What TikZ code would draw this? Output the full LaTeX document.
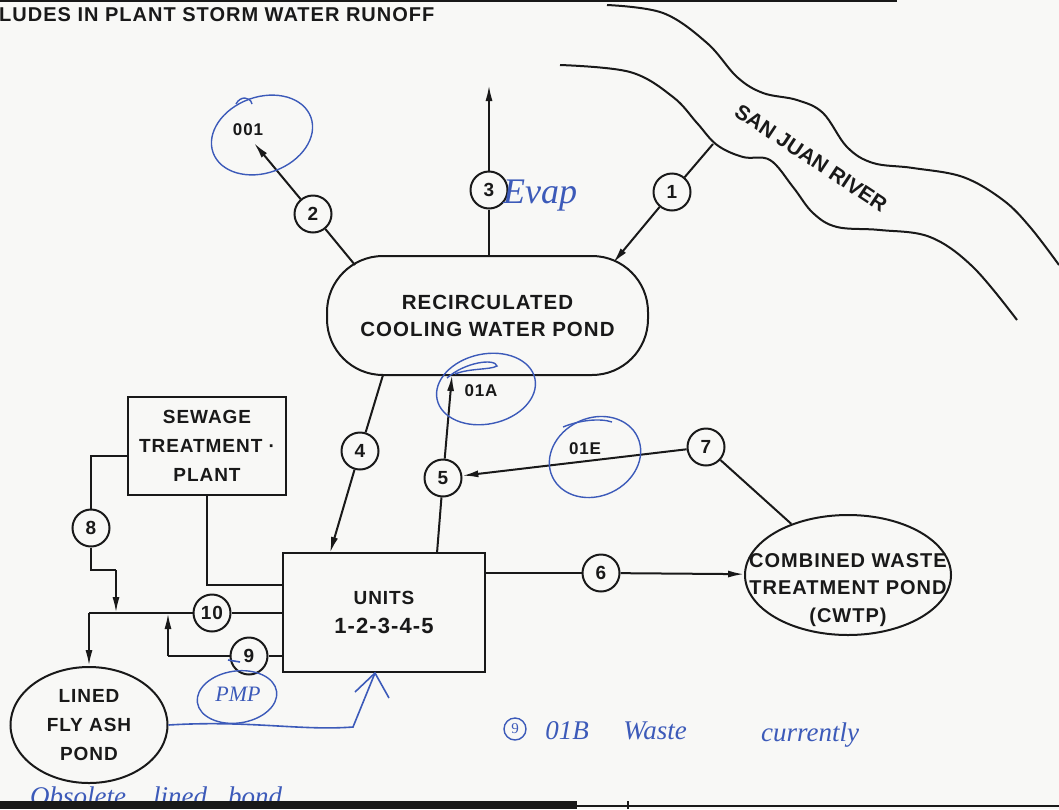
\documentclass[tikz,border=0pt]{standalone}
\usepackage{fontspec}
\setmainfont{Liberation Sans}
\newfontfamily\drawfont{Liberation Sans}[LetterSpace=5,UprightFont=*-Bold]
\newfontfamily\riverfont{Liberation Sans}[UprightFont=*-Bold]
\newfontfamily\handfont{Liberation Serif}
\usetikzlibrary{shapes.geometric,arrows.meta}
\definecolor{ink}{RGB}{25,25,25}
\definecolor{pen}{RGB}{60,90,185}
\definecolor{paper}{RGB}{248,248,246}
\begin{document}
\begin{tikzpicture}[x=1pt,y=-1pt,
  line/.style={draw=ink,line width=2pt},
  arr/.style={draw=ink,line width=2pt,-{Latex[length=16pt,width=7pt]}},
  num/.style={circle,draw=ink,line width=2pt,minimum size=37pt,inner sep=0pt,text=ink,fill=paper,font=\drawfont\fontsize{19}{19}\selectfont},
  lbl/.style={align=center,text=ink,inner sep=0pt,font=\drawfont\fontsize{19}{29}\selectfont},
  small/.style={text=ink,inner sep=0pt,font=\drawfont\fontsize{17}{17}\selectfont},
  hand/.style={text=pen,inner sep=0pt,font=\handfont\itshape\fontsize{27}{27}\selectfont},
  ring/.style={draw=pen,line width=1.4pt},
  pencurve/.style={draw=pen,line width=1.6pt}]
\useasboundingbox (0,0) rectangle (1059,809);
\fill[paper] (0,0) rectangle (1059,809);

% header
\draw[ink,line width=1.5pt] (0,1) -- (897,1);
\node[lbl,anchor=west,font=\drawfont\fontsize{20}{20}\selectfont] (header) at (-1,15) {LUDES IN PLANT STORM WATER RUNOFF};

% river
\draw[line] plot[smooth,tension=0.6] coordinates {(607,5) (663,13) (707,43) (737,77) (763,93) (797,100) (823,113) (847,147) (873,163) (913,168) (963,177) (1003,200) (1030,227) (1059,265)};
\draw[line] plot[smooth,tension=0.6] coordinates {(560,65) (630,72) (673,97) (697,123) (717,145) (743,157) (770,160) (793,187) (813,213) (837,227) (880,230) (930,237) (973,267) (1017,320)};
\node[align=center,text=ink,inner sep=0pt,rotate=-33.5,font=\riverfont\fontsize{21}{21}\selectfont] (river) at (811,158) {SAN JUAN RIVER};

% main nodes
\node[lbl,draw=ink,line width=2pt,rounded corners=56pt,minimum width=321pt,minimum height=119pt,font=\drawfont\fontsize{20.5}{27}\selectfont] (pond) at (487.5,315.5) {RECIRCULATED\\COOLING WATER POND};
\node[lbl,draw=ink,line width=2pt,minimum width=158pt,minimum height=98pt] (sewage) at (207,446) {SEWAGE\\TREATMENT ·\\PLANT};
\node[lbl,draw=ink,line width=2pt,minimum width=202pt,minimum height=119pt] (units) at (384,612.5) {UNITS\\{\fontsize{22}{22}\selectfont 1-2-3-4-5}};
\node[ellipse,draw=ink,line width=2pt,minimum width=206pt,minimum height=120pt] (cwtp) at (848,575) {};
\node[lbl,font=\drawfont\fontsize{20}{27.5}\selectfont] (cwtptext) at (848,590) {COMBINED WASTE\\TREATMENT POND\\(CWTP)};
\node[lbl,ellipse,draw=ink,line width=2pt,minimum width=157pt,minimum height=116pt] (flyash) at (89,725) {LINED\\FLY ASH\\POND};

% numbered circles
\node[num] (n1) at (672,192) {1};
\node[num] (n2) at (313,214) {2};
\node[num] (n3) at (489,190) {3};
\node[num] (n4) at (360,451) {4};
\node[num] (n5) at (443,478) {5};
\node[num] (n6) at (601,573) {6};
\node[num] (n7) at (706,447) {7};
\node[num] (n8) at (91,528) {8};
\node[num] (n9) at (249,656) {9};
\node[num] (n10) at (212,613) {10};

% outfall labels
\node[small] (t001) at (248,130) {001};
\node[small] (t01a) at (481,391) {01A};
\node[small] (t01e) at (585,449) {01E};

% coordinates
\coordinate (r1) at (713,144);
\coordinate (p1) at (613,263);
\coordinate (p2) at (355,265);
\coordinate (o1) at (254,143);
\coordinate (e3) at (489,85);
\coordinate (p4) at (383,375);
\coordinate (u4) at (330,553);
\coordinate (u5) at (437,553);
\coordinate (p5) at (452,375);
\coordinate (s8) at (128,456);
\coordinate (j8) at (116,570);
\coordinate (t8) at (116,613);
\coordinate (j10) at (89,613);
\coordinate (j9) at (168,656);
\coordinate (t9) at (168,613);
\coordinate (s1) at (283,585);

% connectors
\draw[line] (r1) -- (n1);
\draw[arr] (n1) -- (p1);
\draw[line] (p2) -- (n2);
\draw[arr] (n2) -- (o1);
\draw[line] (n3 |- pond.north) -- (n3);
\draw[arr] (n3) -- (e3);
\draw[line] (p4) -- (n4);
\draw[arr] (n4) -- (u4);
\draw[line] (u5) -- (n5);
\draw[arr] (n5) -- (p5);
\draw[arr] (n7) -- (n5);
\draw[line] (n7) -- (cwtp);
\draw[line] (units.east |- n6) -- (n6);
\draw[arr] (n6) -- (cwtp);
\draw[line] (s8) -| (n8);
\draw[line] (n8) |- (j8);
\draw[arr] (j8) -- (t8);
\draw[line] (units.west |- n10) -- (n10);
\draw[line] (n10) -- (j10);
\draw[arr] (j10) -- (flyash);
\draw[line] (units.west |- n9) -- (n9);
\draw[line] (n9) -- (j9);
\draw[arr] (j9) -- (t9);
\draw[line] (sewage.south) |- (s1);

% blue handwriting
\draw[ring,rotate around={20:(262,135)}] (262,135) ellipse [x radius=52pt,y radius=38pt];
\draw[ring] (236,104) .. controls (240,96) and (250,96) .. (252,104);
\draw[ring,rotate around={12:(486,389)}] (486,389) ellipse [x radius=50pt,y radius=35pt];
\draw[ring] (447,378) .. controls (465,362) and (495,358) .. (497,366) .. controls (490,370) and (470,368) .. (455,374);
\draw[ring,rotate around={25:(595,457)}] (595,457) ellipse [x radius=47pt,y radius=39pt];
\draw[ring] (563,427) .. controls (580,420) and (600,418) .. (612,422);
\draw[ring,rotate around={8:(237,697)}] (237,697) ellipse [x radius=40pt,y radius=26pt];
\node[hand,font=\handfont\itshape\fontsize{22}{22}\selectfont] (scrib) at (238,694) {PMP};
\draw[pencurve] (228,660) -- (240,662);
\node[hand,anchor=west,font=\handfont\itshape\fontsize{36}{36}\selectfont] (evap) at (503,196) {Evap};

\coordinate (bt) at (375,673);
\draw[pencurve] (flyash.east) .. controls (250,720) and (300,731) .. (353,727) -- (bt);
\draw[pencurve] (355,692) -- (bt) -- (389,698);

\node[circle,draw=pen,line width=1.4pt,minimum size=22pt,inner sep=0pt,text=pen,font=\handfont\fontsize{15}{15}\selectfont] (c9) at (515,729) {9};
\node[hand] (w1) at (567,731) {01B};
\node[hand] (w2) at (655,731) {Waste};
\node[hand] (w3) at (810,735) {currently};
\node[hand] (b1) at (78,796) {Obsolete};
\node[hand] (b2) at (180,796) {lined};
\node[hand] (b3) at (255,796) {bond};

% bottom border
\fill[ink] (0,801) rectangle (577,809);
\draw[ink,line width=1.2pt] (577,806) -- (1059,806);
\draw[ink,line width=1.2pt] (628,801) -- (628,809);
\end{tikzpicture}
\end{document}
